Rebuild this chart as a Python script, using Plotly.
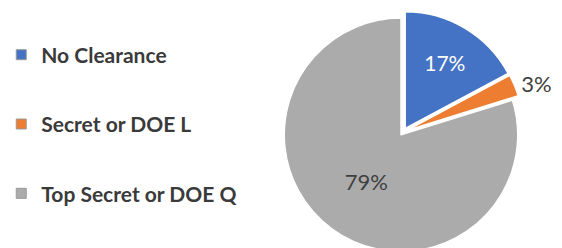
import plotly.graph_objects as go

categories = ["No Clearance", "Secret or DOE L", "Top Secret or DOE Q"]
values = [17, 3, 79]
colors = ["#4472C4", "#ED7D31", "#ABABAB"]
text_labels = ["17%", "3%", "79%"]

fig = go.Figure()

fig.add_trace(go.Pie(
    labels=categories,
    values=values,
    text=text_labels,
    textinfo="text",
    sort=False,
    direction="clockwise",
    rotation=0,
    pull=[0.035, 0.035, 0.03],
    marker=dict(colors=colors, line=dict(color="white", width=1.5)),
    textposition=["inside", "outside", "inside"],
    insidetextorientation="horizontal",
    insidetextfont=dict(family="Lato", size=[21, 20, 22], color=["white", "#404040", "#404040"]),
    outsidetextfont=dict(family="Lato", size=[22, 22, 22], color="#404040"),
    domain=dict(x=[0.488, 0.918], y=[0.0, 1.0]),
    automargin=False,
    showlegend=False,
    hoverinfo="label+percent",
))

# legend entries (one per category)
for i, (cat, col) in enumerate(zip(categories, colors)):
    fig.add_trace(go.Scatter(
        x=[None], y=[None], mode="markers", name=cat,
        legendgroup=f"g{i}",
        marker=dict(symbol="square", size=10, color=col,
                    line=dict(color="#9a9a9a", width=1)),
    ))

fig.update_layout(
    width=562, height=248,
    margin=dict(l=0, r=0, t=0, b=0, autoexpand=False),
    paper_bgcolor="white", plot_bgcolor="white",
    xaxis=dict(visible=False), yaxis=dict(visible=False),
    legend=dict(
        x=-0.012, xanchor="left", y=0.532, yanchor="middle",
        font=dict(family="Lato", size=21, color="#3a3a3a", weight="bold"),
        tracegroupgap=39, itemwidth=30,
        bgcolor="rgba(0,0,0,0)",
    ),
)

fig.write_html("out.html")
